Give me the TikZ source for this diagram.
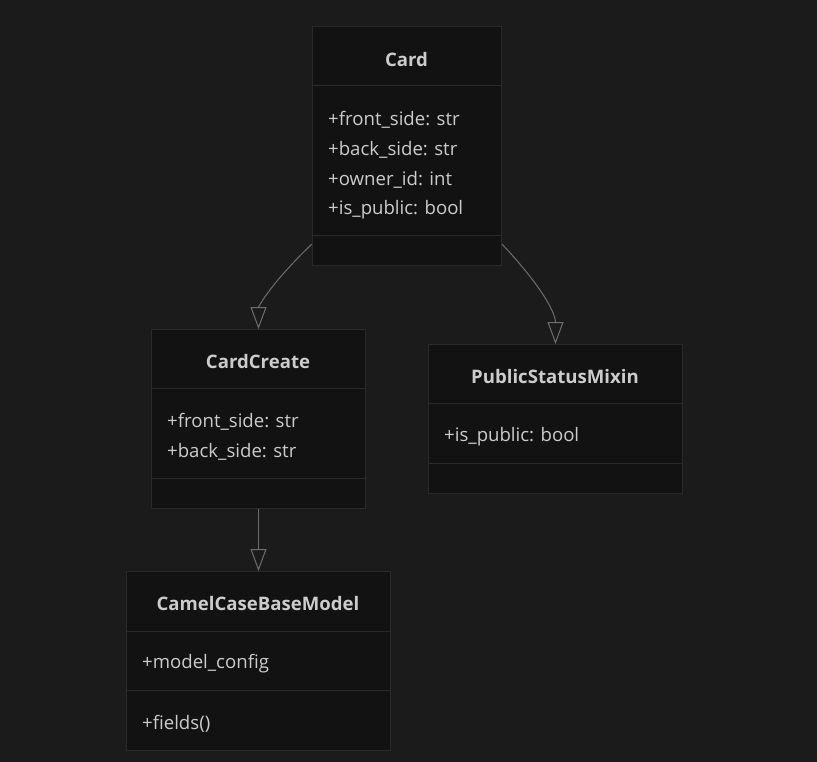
\documentclass[tikz,border=0pt]{standalone}
\usepackage{fontspec}
\setmainfont{Open Sans}
\usetikzlibrary{arrows.meta}
\definecolor{bgc}{HTML}{1B1B1B}
\definecolor{boxfill}{HTML}{121212}
\definecolor{boxline}{HTML}{2A2A2A}
\definecolor{txt}{HTML}{CCCCCC}
\definecolor{arr}{HTML}{6E6E6E}
\tikzset{
  classbox/.style={draw=boxline, line width=1pt, fill=boxfill, inner sep=0pt, anchor=north west},
  sepline/.style={draw=boxline, line width=1pt},
  title/.style={text=txt, font=\fontsize{18.6}{20}\selectfont\bfseries, inner sep=0pt, anchor=center, yshift=-1.5pt},
  member/.style={text=txt, font=\fontsize{18.6}{20}\selectfont, inner sep=0pt, anchor=west, yshift=-2pt},
  inherit/.style={draw=arr, line width=1pt, -{Triangle[open, length=22pt, width=16pt, line width=1pt]}},
}
\begin{document}
\begin{tikzpicture}[x=1pt, y=-1pt]
\fill[bgc] (0,0) rectangle (817,762);
\useasboundingbox (0,0) rectangle (817,762);

% Card
\node[classbox, minimum width=189pt, minimum height=239pt] (card) at (312,26) {};
\draw[sepline] (312,86) -- (501,86);
\draw[sepline] (312,236) -- (501,236);
\node[title] (cardT) at (406.5,58) {Card};
\node[member] (cardA1) at (328,118) {+front\_side: str};
\node[member] (cardA2) at (328,148) {+back\_side: str};
\node[member] (cardA3) at (328,178) {+owner\_id: int};
\node[member] (cardA4) at (328,208) {+is\_public: bool};

% CardCreate
\node[classbox, minimum width=214pt, minimum height=179pt] (cc) at (151,329) {};
\draw[sepline] (151,388) -- (365,388);
\draw[sepline] (151,478) -- (365,478);
\node[title] (ccT) at (258,360) {CardCreate};
\node[member] (ccA1) at (167,420) {+front\_side: str};
\node[member] (ccA2) at (167,450) {+back\_side: str};

% PublicStatusMixin
\node[classbox, minimum width=254pt, minimum height=149pt] (psm) at (428,344) {};
\draw[sepline] (428,403) -- (682,403);
\draw[sepline] (428,463) -- (682,463);
\node[title] (psmT) at (555,375) {PublicStatusMixin};
\node[member] (psmA1) at (444,435) {+is\_public: bool};

% CamelCaseBaseModel
\node[classbox, minimum width=264pt, minimum height=179pt] (cam) at (126,571) {};
\draw[sepline] (126,631) -- (390,631);
\draw[sepline] (126,690) -- (390,690);
\node[title] (camT) at (258,602) {CamelCaseBaseModel};
\node[member] (camA1) at (142,662) {+model\_config};
\node[member] (camM1) at (142,722) {+fields()};

% connectors
\draw[inherit] ([yshift=22pt]card.south west) .. controls +(-42,40) and +(0,-22) .. (cc.north);
\draw[inherit] ([yshift=22pt]card.south east) .. controls +(42,45) and +(0,-30) .. (psm.north);
\draw[inherit] (cc.south) -- (cam.north);
\end{tikzpicture}
\end{document}
